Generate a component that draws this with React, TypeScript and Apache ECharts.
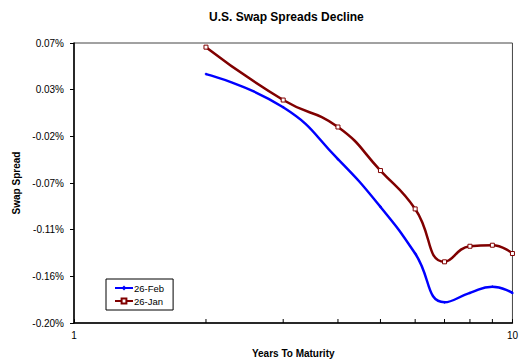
import React, { useEffect, useRef } from "react";
import * as echarts from "echarts";

const years = [2, 3, 4, 5, 6, 7, 8, 9, 10];
const feb26 = [0.04, 0.008, -0.042, -0.088, -0.133, -0.18, -0.171, -0.165, -0.171];
const jan26 = [0.066, 0.015, -0.011, -0.053, -0.09, -0.141, -0.126, -0.125, -0.133];
const minorTickYears = [2, 3, 4, 5, 6, 7, 8, 9];
const yTickLabels = ["-0.20%", "-0.16%", "-0.11%", "-0.07%", "-0.02%", "0.03%", "0.07%"];
const yMin = -0.2;
const yMax = 0.07;
const yStep = (yMax - yMin) / 6;

const FONT = "'Liberation Sans', Arial, sans-serif";

export default function App() {
  const ref = useRef<HTMLDivElement>(null);
  useEffect(() => {
    if (!ref.current) return;
    const chart = echarts.init(ref.current, null, { renderer: "svg" });
    const shift = (v: number) => v - yMin;
    chart.setOption({
      animation: false,
      backgroundColor: "#fff",
      title: {
        text: "U.S. Swap Spreads Decline",
        left: 204,
        top: 6,
        textStyle: { fontFamily: FONT, fontSize: 12, fontWeight: "bold", color: "#000" },
      },
      grid: {
        left: 74,
        right: 7,
        top: 43,
        bottom: 39,
        show: true,
        borderColor: "#444",
        borderWidth: 1,
        backgroundColor: "transparent",
      },
      legend: {
        data: ["26-Feb", "26-Jan"],
        orient: "vertical",
        left: 106,
        top: 279,
        padding: [4, 9, 4, 8],
        itemWidth: 18,
        itemHeight: 6,
        itemGap: 3,
        borderColor: "#000",
        borderWidth: 1,
        backgroundColor: "#fff",
        textStyle: { fontFamily: FONT, fontSize: 9.5, color: "#000", padding: [0, 0, 0, -4] },
      },
      xAxis: {
        type: "log",
        logBase: 10,
        min: 1,
        max: 10,
        name: "Years To Maturity",
        nameLocation: "middle",
        nameGap: 25,
        nameTextStyle: { fontFamily: FONT, fontSize: 10, fontWeight: "bold", color: "#000" },
        axisLine: { lineStyle: { color: "#000", width: 1.5 } },
        axisTick: { inside: true, length: 4, lineStyle: { color: "#000" } },
        axisLabel: { fontFamily: FONT, fontSize: 10, color: "#000", margin: 7 },
        splitLine: { show: false },
      },
      yAxis: {
        type: "value",
        min: 0,
        max: yMax - yMin,
        interval: yStep,
        name: "Swap Spread",
        nameLocation: "middle",
        nameGap: 52,
        nameTextStyle: { fontFamily: FONT, fontSize: 10, fontWeight: "bold", color: "#000" },
        axisLine: { show: true, lineStyle: { color: "#000", width: 1.5 } },
        axisTick: { show: true, length: 4, lineStyle: { color: "#000" } },
        axisLabel: {
          fontFamily: FONT,
          fontSize: 10,
          color: "#000",
          margin: 10,
          formatter: (v: number) => yTickLabels[Math.round(v / yStep)] ?? "",
        },
        splitLine: { show: false },
      },
      series: [
        {
          name: "26-Feb",
          type: "line",
          smooth: 0.5,
          data: years.map((x, i) => [x, shift(feb26[i])]),
          symbol: "diamond",
          symbolSize: 3,
          lineStyle: { color: "#0000FF", width: 2.5 },
          itemStyle: { color: "#0000FF" },
          z: 3,
        },
        {
          name: "26-Jan",
          type: "line",
          smooth: 0.5,
          data: years.map((x, i) => [x, shift(jan26[i])]),
          symbol: "rect",
          symbolSize: 4,
          lineStyle: { color: "#800000", width: 2.5 },
          itemStyle: { color: "#fff", borderColor: "#800000", borderWidth: 1 },
          z: 4,
        },
        {
          name: "minorTicks",
          type: "custom",
          silent: true,
          z: 5,
          data: minorTickYears.map((x) => [x, 0]),
          renderItem: (params: any, api: any) => {
            const p = api.coord([api.value(0), 0]);
            return {
              type: "line",
              shape: { x1: p[0], y1: p[1], x2: p[0], y2: p[1] - 4 },
              style: { stroke: "#000", lineWidth: 1 },
            };
          },
        },
      ],
    });
    return () => chart.dispose();
  }, []);
  return (
    <div
      ref={ref}
      style={{ position: "fixed", left: 0, top: 0, width: 521, height: 363 }}
    />
  );
}
